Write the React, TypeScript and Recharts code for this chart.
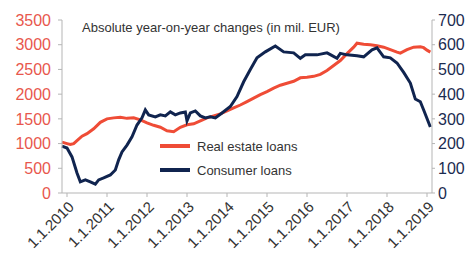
import { LineChart, Line, XAxis, YAxis } from 'recharts'

// months counted from 1.1.2010 (0 = Jan 2010)
const realEstateMonths = [
  -1.5, 0, 1, 2, 3, 4.5, 6, 8, 10, 12, 14, 16, 18, 20, 22, 24, 26, 28, 30, 32, 34, 36, 38, 40,
  42, 44, 46, 48, 50, 52, 54, 56, 58, 60, 62, 64, 66, 68, 70, 72, 74, 76, 78, 80, 82, 84, 86,
  87, 89, 91, 93, 95, 97, 99, 100, 102, 104, 106, 107, 108, 109,
]
const realEstateValues = [
  1030, 1000, 980, 1000, 1060, 1150, 1200, 1300, 1430, 1500, 1520, 1530, 1510, 1520, 1480,
  1420, 1370, 1330, 1260, 1240, 1330, 1380, 1400, 1460, 1520, 1560, 1600, 1660, 1720, 1780,
  1850, 1920, 1990, 2050, 2120, 2180, 2220, 2260, 2330, 2340, 2360, 2400, 2480, 2580, 2680,
  2820, 2950, 3030, 3010, 3000, 2980, 2950, 2900, 2850, 2830, 2900, 2950, 2960, 2940, 2890,
  2850,
]

const consumerMonths = [
  -1.5, 0, 1.5, 3, 4, 5.5, 7, 8.5, 9.5, 11, 13, 14.5, 15.5, 16.5, 18, 19.5, 21, 22.5, 23.5,
  24.5, 26.5, 28, 29.5, 31, 32.5, 34, 35.5, 36, 37, 38.5, 40, 41.5, 43, 44.5, 46.5, 49, 51,
  53, 55, 57, 59.5, 62.5, 65, 68, 70, 71.5, 75, 78, 79, 81, 82, 84, 87, 89, 91.5, 93, 95, 97,
  99, 101, 103, 104.5, 106, 107, 109,
]
const consumerValues = [
  190, 182, 146, 81, 45, 53, 45, 36, 53, 61, 73, 93, 134, 166, 194, 227, 275, 304, 336, 316,
  308, 316, 312, 328, 316, 324, 328, 292, 324, 332, 312, 304, 308, 304, 324, 350, 390, 450,
  500, 547, 571, 595, 571, 567, 545, 559, 559, 567, 560, 545, 565, 559, 555, 551, 579, 587,
  551, 547, 526, 488, 445, 380, 369, 336, 267,
]

const xTicks = [0, 12, 24, 36, 48, 60, 72, 84, 96, 108]
const xTickLabels = ['1.1.2010', '1.1.2011', '1.1.2012', '1.1.2013', '1.1.2014', '1.1.2015', '1.1.2016', '1.1.2017', '1.1.2018', '1.1.2019']
const leftTicks = [0, 500, 1000, 1500, 2000, 2500, 3000, 3500]
const rightTicks = [0, 100, 200, 300, 400, 500, 600, 700]

const realEstateData = realEstateMonths.map((m, i) => ({ m, v: realEstateValues[i] }))
const consumerData = consumerMonths.map((m, i) => ({ m, v: consumerValues[i] }))

const RED = '#ef4c36'
const NAVY = '#10244f'
const FONT = '"Liberation Sans", Arial, sans-serif'

function DateTick({ x, y, payload }: { x?: number; y?: number; payload?: { value: number } }) {
  const idx = xTicks.indexOf(payload?.value ?? -1)
  return (
    <text
      transform={`translate(${(x ?? 0) + 5},${(y ?? 0) + 6}) rotate(-45)`}
      textAnchor="end"
      dominantBaseline="middle"
      fontSize={15}
      fontFamily={FONT}
      fill="#333"
    >
      {xTickLabels[idx]}
    </text>
  )
}

const legendItems = [
  { name: 'Real estate loans', color: RED },
  { name: 'Consumer loans', color: NAVY },
]

export default function App() {
  return (
    <div style={{ position: 'absolute', left: 0, top: 0, width: 472, height: 265, background: '#fff' }}>
      <div
        style={{
          position: 'absolute',
          left: 82,
          top: 20,
          fontFamily: FONT,
          fontSize: 13,
          color: '#333',
          zIndex: 2,
        }}
      >
        Absolute year-on-year changes (in mil. EUR)
      </div>
      <div
        style={{
          position: 'absolute',
          left: 160,
          top: 134,
          fontFamily: FONT,
          fontSize: 13,
          color: '#333',
          zIndex: 2,
        }}
      >
        {legendItems.map((it) => (
          <div key={it.name} style={{ display: 'flex', alignItems: 'center', height: 24 }}>
            <span style={{ width: 30, height: 4, background: it.color, marginRight: 7 }} />
            <span>{it.name}</span>
          </div>
        ))}
      </div>
      <LineChart width={472} height={265} margin={{ top: 20, right: 0, bottom: 0, left: 0 }}>
        <XAxis
          dataKey="m"
          type="number"
          domain={[-1.5, 109.5]}
          ticks={xTicks}
          interval={0}
          allowDuplicatedCategory={false}
          height={72}
          stroke="#b5b5b5"
          tickSize={4}
          tick={<DateTick />}
        />
        <YAxis
          yAxisId="left"
          domain={[0, 3500]}
          ticks={leftTicks}
          interval={0}
          width={62}
          stroke="#b5b5b5"
          tickSize={4}
          tickMargin={7}
          tick={{ fill: '#e8574d', fontSize: 16, fontFamily: FONT }}
        />
        <YAxis
          yAxisId="right"
          orientation="right"
          domain={[0, 700]}
          ticks={rightTicks}
          interval={0}
          width={40}
          stroke="#b5b5b5"
          tickSize={3}
          tickMargin={3}
          tick={{ fill: '#1b2b50', fontSize: 16, fontFamily: FONT }}
        />
        <Line
          yAxisId="left"
          data={realEstateData}
          dataKey="v"
          name="Real estate loans"
          stroke={RED}
          strokeWidth={3}
          dot={false}
          isAnimationActive={false}
        />
        <Line
          yAxisId="right"
          data={consumerData}
          dataKey="v"
          name="Consumer loans"
          stroke={NAVY}
          strokeWidth={3}
          dot={false}
          isAnimationActive={false}
        />
      </LineChart>
    </div>
  )
}
